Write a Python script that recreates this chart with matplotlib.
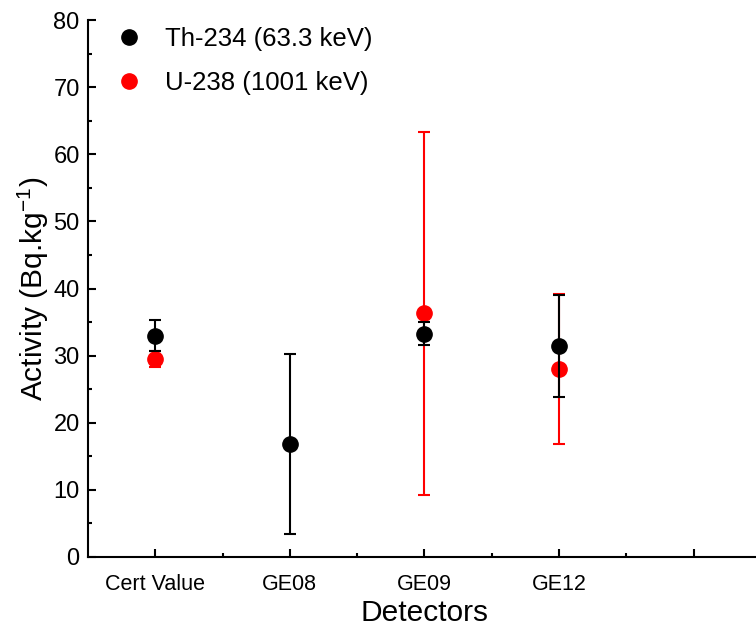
import matplotlib.pyplot as plt
from matplotlib.ticker import MultipleLocator

plt.rcParams['font.family'] = ['Liberation Sans', 'DejaVu Sans']
plt.rcParams['mathtext.fontset'] = 'custom'
plt.rcParams['mathtext.rm'] = 'Liberation Sans'
plt.rcParams['mathtext.it'] = 'Liberation Sans:italic'

detectors = ['Cert Value', 'GE08', 'GE09', 'GE12']
x_th = [1, 2, 3, 4]
th_val = [33.0, 16.8, 33.3, 31.5]
th_err = [2.35, 13.4, 1.7, 7.6]
x_u = [1, 3, 4]
u_val = [29.5, 36.3, 28.0]
u_err = [1.2, 27.0, 11.2]

fig = plt.figure(figsize=(7.56, 6.29), dpi=100)
ax = fig.add_axes([0.1164, 0.1145, 0.89, 0.8535])

ax.errorbar(x_u, u_val, yerr=u_err, fmt='o', color='red', ms=11,
            capsize=4.5, elinewidth=1.5, capthick=1.5, label='U-238 (1001 keV)', zorder=2)
ax.errorbar(x_th, th_val, yerr=th_err, fmt='o', color='black', ms=11,
            capsize=4.5, elinewidth=1.5, capthick=1.5, label='Th-234 (63.3 keV)', zorder=3)

ax.set_xlim(0.5, 5.5)
ax.set_ylim(0, 80)
ax.set_xticks([1, 2, 3, 4, 5])
ax.set_xticklabels(detectors + [''])
ax.set_xticks([1.5, 2.5, 3.5, 4.5], minor=True)
ax.yaxis.set_major_locator(MultipleLocator(10))
ax.yaxis.set_minor_locator(MultipleLocator(5))
ax.tick_params(which='major', direction='in', length=6, width=1.5)
ax.tick_params(which='minor', direction='in', length=3, width=1.5)
ax.tick_params(axis='y', labelsize=17, pad=6)
ax.tick_params(axis='x', labelsize=15.5, pad=12)

for s in ['top', 'right']:
    ax.spines[s].set_visible(False)
for s in ['left', 'bottom']:
    ax.spines[s].set_linewidth(1.5)

ax.set_xlabel('Detectors', fontsize=21.5, labelpad=3)
ax.set_ylabel('Activity (Bq.kg$^{-1}$)', fontsize=21.5, labelpad=2)

h, l = ax.get_legend_handles_labels()
leg = ax.legend([h[1][0], h[0][0]], [l[1], l[0]], loc='upper left', frameon=False,
                fontsize=18.5, handletextpad=0.6, labelspacing=0.75,
                handlelength=1.6, bbox_to_anchor=(0.0, 1.025), borderaxespad=0.4)

fig.savefig('out.png', dpi=100)
